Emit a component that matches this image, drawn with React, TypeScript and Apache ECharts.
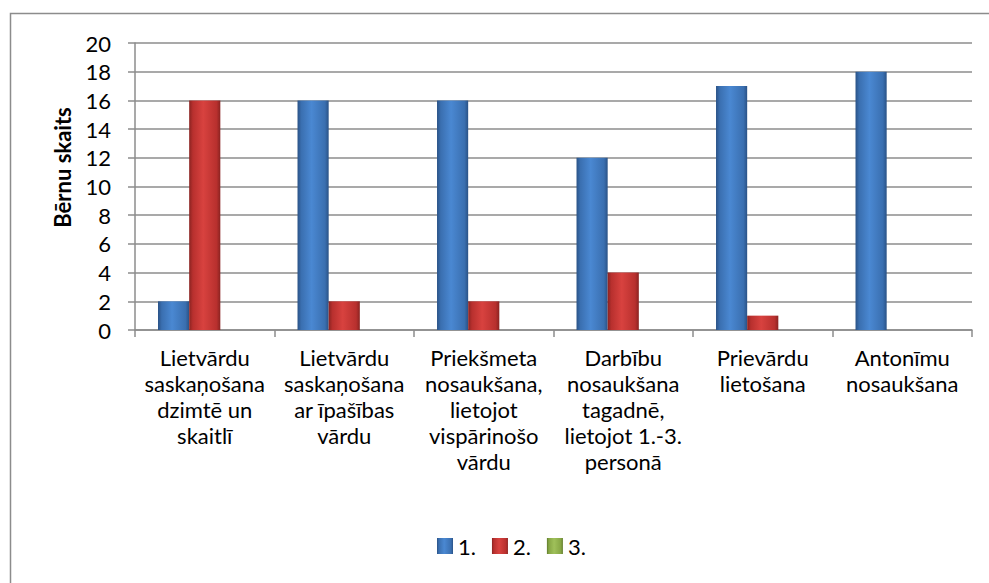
import React, { useEffect, useRef } from "react";
import * as echarts from "echarts";

const categories = [
  "Lietvārdu\nsaskaņošana\ndzimtē un\nskaitlī",
  "Lietvārdu\nsaskaņošana\nar īpašības\nvārdu",
  "Priekšmeta\nnosaukšana,\nlietojot\nvispārinošo\nvārdu",
  "Darbību\nnosaukšana\ntagadnē,\nlietojot 1.-3.\npersonā",
  "Prievārdu\nlietošana",
  "Antonīmu\nnosaukšana",
];
const seriesNames = ["1.", "2.", "3."];
const series1 = [2, 16, 16, 12, 17, 18];
const series2 = [16, 2, 2, 4, 1, 0];
const series3 = [0, 0, 0, 0, 0, 0];
const yAxisTitle = "Bērnu skaits";

const FONT = "Lato, 'Liberation Sans', sans-serif";

function grad(edge: string, mid: string, light: string) {
  return new echarts.graphic.LinearGradient(0, 0, 1, 0, [
    { offset: 0, color: edge },
    { offset: 0.12, color: mid },
    { offset: 0.45, color: light },
    { offset: 0.88, color: mid },
    { offset: 1, color: edge },
  ]);
}

export default function App() {
  const ref = useRef<HTMLDivElement>(null);
  useEffect(() => {
    if (!ref.current) return;
    const chart = echarts.init(ref.current, undefined, { renderer: "svg" });
    const blue = grad("#2a5286", "#3a6fb0", "#4a88d2");
    const red = grad("#8a2321", "#b8302e", "#d8423f");
    const green = grad("#5f7a2c", "#86a644", "#9fc05a");
    chart.setOption({
      animation: false,
      backgroundColor: "#ffffff",
      textStyle: { fontFamily: FONT },
      graphic: [
        {
          type: "rect",
          shape: { x: 10.5, y: 13.5, width: 1000, height: 1000 },
          style: { fill: "none", stroke: "#8c8c8c", lineWidth: 1.5 },
          silent: true,
        },
      ],
      grid: { left: 135, right: 17, top: 43, bottom: 253, containLabel: false },
      legend: {
        data: seriesNames,
        bottom: 21,
        left: 432,
        icon: "rect",
        itemWidth: 16,
        itemHeight: 16,
        itemGap: 16,
        textStyle: { fontFamily: FONT, fontSize: 22, color: "#000" },
      },
      xAxis: {
        type: "category",
        data: categories,
        axisLine: { lineStyle: { color: "#8c8c8c", width: 1.5 } },
        axisTick: { show: true, length: 7, alignWithLabel: false, lineStyle: { color: "#8c8c8c", width: 1.5 } },
        axisLabel: {
          interval: 0,
          margin: 14,
          fontFamily: FONT,
          fontSize: 22,
          lineHeight: 26,
          color: "#000",
          align: "center",
        },
        splitLine: { show: false },
      },
      yAxis: {
        type: "value",
        min: 0,
        max: 20,
        interval: 2,
        name: yAxisTitle,
        nameLocation: "middle",
        nameGap: 62,
        nameRotate: 90,
        nameTextStyle: {
          fontFamily: FONT,
          fontSize: 22,
          fontWeight: "bold",
          color: "#000",
          padding: [0, 0, 0, 38],
        },
        axisLine: { show: true, lineStyle: { color: "#8c8c8c", width: 1.5 } },
        axisTick: { show: true, length: 7, lineStyle: { color: "#8c8c8c", width: 1.5 } },
        axisLabel: { margin: 24, fontFamily: FONT, fontSize: 22, color: "#000" },
        splitLine: { show: true, lineStyle: { color: "#8c8c8c", width: 1.5 } },
      },
      series: [
        { name: seriesNames[0], type: "bar", data: series1, barGap: "0%", barCategoryGap: "33%", itemStyle: { color: blue } },
        { name: seriesNames[1], type: "bar", data: series2, barGap: "0%", barCategoryGap: "33%", itemStyle: { color: red } },
        { name: seriesNames[2], type: "bar", data: series3, barGap: "0%", barCategoryGap: "33%", itemStyle: { color: green } },
      ],
    });
    return () => chart.dispose();
  }, []);
  return <div ref={ref} style={{ position: "fixed", left: 0, top: 0, width: 989, height: 583 }} />;
}
